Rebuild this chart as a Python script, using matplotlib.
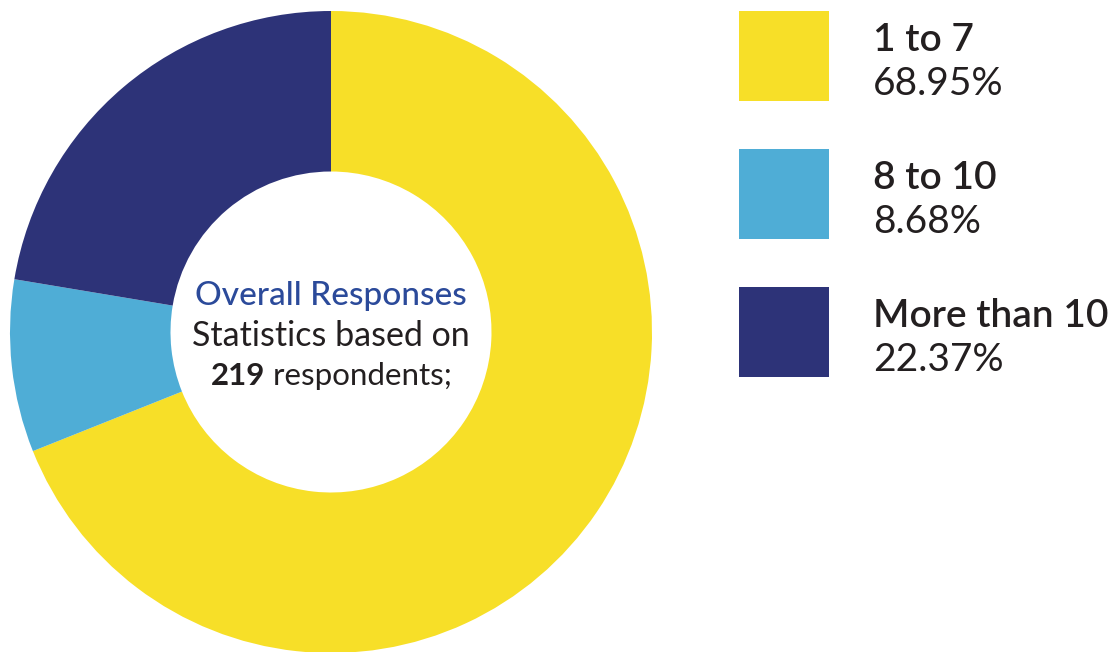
import matplotlib
matplotlib.use("Agg")
import matplotlib.pyplot as plt
from matplotlib.patches import Rectangle

# ------------------------------- data -------------------------------- #
categories = ["1 to 7", "8 to 10", "More than 10"]
shares = [68.95, 8.68, 22.37]
colors = ["#F7DF28", "#4FADD6", "#2D3378"]
respondents = 219

textColor = "#231F20"
titleColor = "#2B4A9A"
fontName = "Lato"

# ------------------------------ figure ------------------------------- #
W, H = 1113, 652
fig = plt.figure(figsize=(W / 100, H / 100), dpi=100)

# donut axes: centre (331, 332) px, outer radius 321 px
cx, cy, R = 331, 332, 321
ax = fig.add_axes([(cx - R) / W, (H - cy - R) / H, 2 * R / W, 2 * R / H])
ax.pie(shares, colors=colors, startangle=90, counterclock=False, radius=1,
       wedgeprops=dict(width=0.5, linewidth=0))
ax.set_xlim(-1, 1)
ax.set_ylim(-1, 1)
ax.set_aspect("equal")
ax.axis("off")

# overlay axes in pixel units for the legend and centre text
ov = fig.add_axes([0, 0, 1, 1])
ov.set_xlim(0, W)
ov.set_ylim(H, 0)
ov.axis("off")

# centre text
ov.text(cx, 305, "Overall Responses", color=titleColor, fontsize=24,
        fontname=fontName, fontweight="medium", ha="center", va="baseline")
ov.text(cx, 346, "Statistics based on", color=textColor, fontsize=24.5,
        fontname=fontName, fontweight="normal", ha="center", va="baseline")
num = ov.text(cx, 385, str(respondents), color=textColor, fontsize=22.5,
              fontname=fontName, fontweight="bold", ha="left", va="baseline")
rest = ov.annotate(" respondents;", xy=(1, 0), xycoords=num, color=textColor,
                   fontsize=22.5, fontname=fontName, fontweight="normal",
                   ha="left", va="bottom")

# centre the two-part line on the donut
fig.canvas.draw()
r = fig.canvas.get_renderer()
w = num.get_window_extent(r).width + rest.get_window_extent(r).width
num.set_x(cx - w / 2)

# legend
for i, (name, val, col) in enumerate(zip(categories, shares, colors)):
    top = 11 + i * 138
    ov.add_patch(Rectangle((739, top), 90, 90, facecolor=col, linewidth=0))
    ov.text(873, top + 40, name, color=textColor, fontsize=28,
            fontname=fontName, fontweight="semibold", va="baseline")
    ov.text(873, top + 84, f"{val:.2f}%", color=textColor, fontsize=28,
            fontname=fontName, fontweight="normal", va="baseline")

fig.savefig("out.png", dpi=100)
